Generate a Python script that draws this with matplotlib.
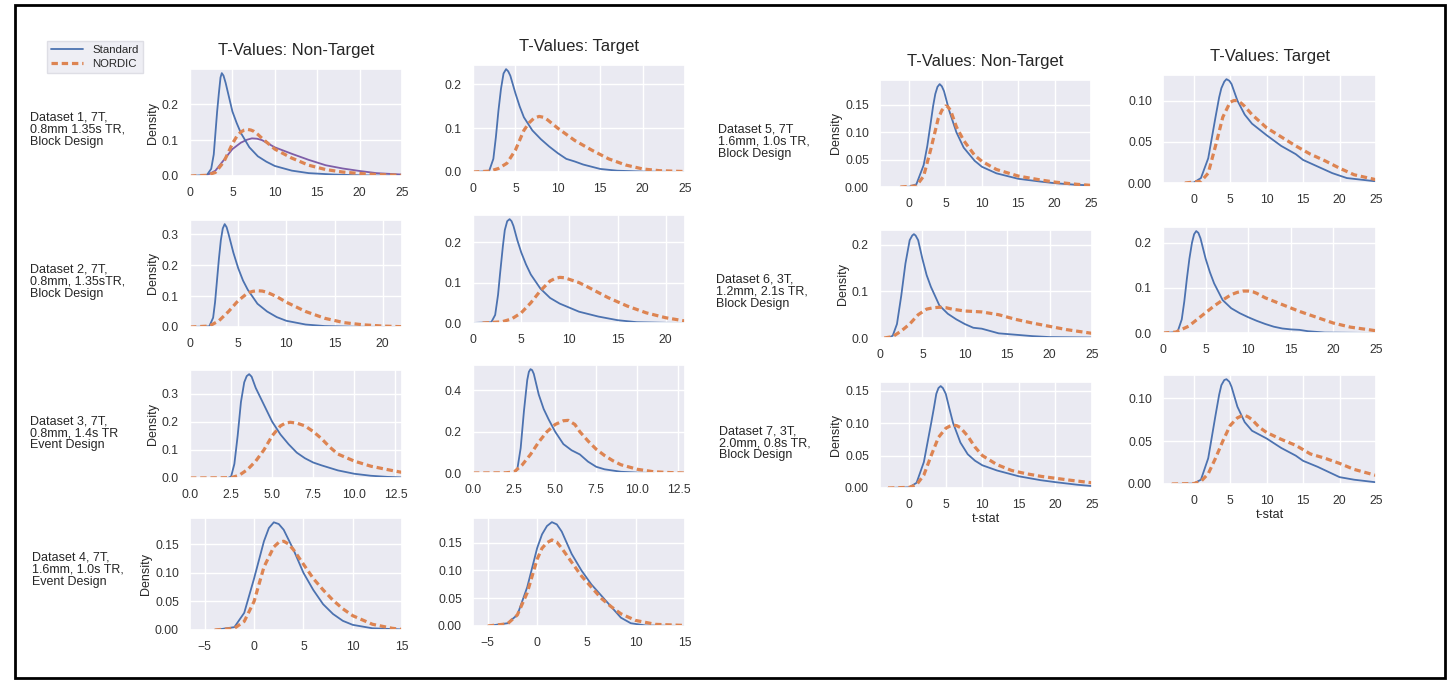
import matplotlib
matplotlib.use("Agg")
import matplotlib.pyplot as plt
import seaborn as sns
from matplotlib.patches import Rectangle
from matplotlib.ticker import MultipleLocator

sns.set_theme(style="darkgrid")
plt.rcParams["font.family"] = ["Liberation Sans", "DejaVu Sans"]

# ---- data (t-value, density) ----
# Dataset 1, non-target
d1n_std_x = [0, 2.0, 2.5, 2.8, 3.0, 3.2, 3.4, 3.6, 3.75, 3.95, 4.2, 4.6, 5, 5.5, 6, 7, 8, 9, 10, 12, 14, 17, 20, 25]
d1n_std_y = [0, 0.003, 0.02, 0.06, 0.12, 0.18, 0.23, 0.275, 0.287, 0.28, 0.26, 0.22, 0.18, 0.148, 0.12, 0.08, 0.055, 0.04, 0.028, 0.015, 0.008, 0.004, 0.002, 0.0005]
d1n_nor_x = [0, 2, 3, 4, 5, 5.5, 6, 6.4, 6.8, 7.2, 7.5, 8, 8.5, 10, 12, 14, 16, 18, 20, 22, 25]
d1n_nor_y = [0, 0.002, 0.01, 0.04, 0.09, 0.11, 0.123, 0.128, 0.13, 0.128, 0.125, 0.116, 0.105, 0.075, 0.05, 0.03, 0.018, 0.011, 0.007, 0.004, 0.002]
d1n_extra_x = [2, 3, 4, 5, 6, 6.7, 7.3, 7.9, 8.5, 10, 12, 14, 16, 18, 20, 22, 25]
d1n_extra_y = [0.002, 0.015, 0.045, 0.075, 0.093, 0.101, 0.105, 0.104, 0.1, 0.08, 0.062, 0.045, 0.03, 0.021, 0.014, 0.008, 0.004]
# Dataset 1, target
d1t_std_x = [0, 1.9, 2.4, 2.7, 3.0, 3.3, 3.6, 3.9, 4.15, 4.4, 5, 5.5, 6, 7, 8, 9, 10, 11, 12, 13, 15, 17, 20, 25]
d1t_std_y = [0, 0.002, 0.03, 0.08, 0.14, 0.19, 0.225, 0.235, 0.23, 0.22, 0.18, 0.15, 0.125, 0.095, 0.075, 0.058, 0.043, 0.03, 0.024, 0.017, 0.007, 0.003, 0.001, 0]
d1t_nor_x = [0, 2, 3, 4, 5, 6, 6.6, 7.2, 7.8, 8.3, 8.8, 10, 12, 14, 16, 18, 20, 22, 25]
d1t_nor_y = [0, 0.002, 0.008, 0.02, 0.05, 0.095, 0.112, 0.123, 0.127, 0.125, 0.119, 0.1, 0.072, 0.05, 0.03, 0.016, 0.007, 0.003, 0.001]
# Dataset 2
d2n_std_x = [0, 2, 2.4, 2.6, 2.8, 3.0, 3.2, 3.4, 3.6, 3.8, 4.0, 4.5, 5, 5.5, 6, 7, 8, 9, 10, 12, 14, 17, 22]
d2n_std_y = [0, 0.002, 0.03, 0.08, 0.15, 0.22, 0.28, 0.318, 0.332, 0.322, 0.3, 0.24, 0.19, 0.15, 0.12, 0.075, 0.05, 0.032, 0.02, 0.008, 0.003, 0.001, 0]
d2n_nor_x = [0, 2, 3, 4, 5, 6, 6.5, 7, 7.5, 8, 9, 10, 12, 14, 16, 18, 20, 22]
d2n_nor_y = [0, 0.003, 0.02, 0.05, 0.085, 0.11, 0.115, 0.117, 0.116, 0.112, 0.098, 0.08, 0.05, 0.028, 0.014, 0.007, 0.003, 0.001]
d2t_std_x = [0, 1.9, 2.3, 2.6, 2.8, 3.1, 3.3, 3.55, 3.8, 4.0, 4.2, 4.6, 5, 5.5, 6, 7, 8, 9, 10, 11, 12, 13, 15, 17, 20, 22]
d2t_std_y = [0, 0.002, 0.02, 0.07, 0.12, 0.19, 0.23, 0.252, 0.257, 0.252, 0.24, 0.205, 0.175, 0.145, 0.12, 0.085, 0.062, 0.048, 0.038, 0.028, 0.022, 0.016, 0.007, 0.002, 0.0005, 0]
d2t_nor_x = [1, 3, 4, 5, 6, 7, 8, 8.5, 9, 9.5, 10, 11, 12, 14, 16, 18, 20, 22]
d2t_nor_y = [0, 0.003, 0.01, 0.025, 0.05, 0.08, 0.104, 0.11, 0.113, 0.112, 0.108, 0.1, 0.088, 0.063, 0.042, 0.025, 0.013, 0.005]
# Dataset 3
d3n_std_x = [2.3, 2.5, 2.7, 2.9, 3.1, 3.3, 3.45, 3.6, 3.75, 4.0, 4.5, 5, 5.5, 6, 6.5, 7, 7.5, 8, 9, 10, 11, 12, 12.9]
d3n_std_y = [0, 0.005, 0.05, 0.15, 0.27, 0.34, 0.362, 0.369, 0.36, 0.32, 0.26, 0.2, 0.155, 0.12, 0.09, 0.07, 0.055, 0.045, 0.027, 0.015, 0.008, 0.004, 0.002]
d3n_nor_x = [0, 2.5, 3, 3.5, 4, 4.5, 5, 5.5, 5.8, 6.1, 6.5, 7, 7.5, 8, 8.5, 9, 10, 11, 12, 12.9]
d3n_nor_y = [0, 0.001, 0.01, 0.03, 0.06, 0.1, 0.15, 0.185, 0.195, 0.198, 0.195, 0.185, 0.165, 0.14, 0.11, 0.085, 0.06, 0.042, 0.03, 0.02]
d3t_std_x = [2.5, 2.7, 2.9, 3.1, 3.3, 3.4, 3.5, 3.6, 3.7, 3.85, 4, 4.3, 4.6, 5, 5.5, 6, 6.5, 7, 7.5, 8, 9, 10, 11]
d3t_std_y = [0, 0.02, 0.12, 0.3, 0.45, 0.49, 0.503, 0.498, 0.48, 0.43, 0.38, 0.31, 0.26, 0.2, 0.14, 0.11, 0.09, 0.055, 0.03, 0.018, 0.006, 0.002, 0]
d3t_nor_x = [0, 2, 2.5, 3, 3.5, 4, 4.5, 5, 5.5, 5.8, 6.2, 6.5, 7, 7.5, 8, 8.5, 9, 10, 11, 12, 12.9]
d3t_nor_y = [0, 0.001, 0.005, 0.04, 0.09, 0.15, 0.2, 0.235, 0.253, 0.255, 0.235, 0.2, 0.155, 0.115, 0.085, 0.06, 0.04, 0.018, 0.006, 0.002, 0]
# Dataset 4
d4n_std_x = [-4, -2, -1, 0, 1, 1.5, 2, 2.5, 3, 4, 5, 6, 7, 8, 9, 10, 12, 15]
d4n_std_y = [0, 0.005, 0.03, 0.09, 0.155, 0.178, 0.188, 0.185, 0.175, 0.14, 0.1, 0.07, 0.045, 0.028, 0.016, 0.009, 0.003, 0.001]
d4n_nor_x = [-4, -2, -1, 0, 1, 2, 2.5, 3, 3.5, 4, 5, 6, 7, 8, 9, 10, 12, 14, 15]
d4n_nor_y = [0, 0.003, 0.015, 0.05, 0.11, 0.145, 0.153, 0.155, 0.15, 0.14, 0.115, 0.09, 0.07, 0.052, 0.037, 0.025, 0.01, 0.003, 0.001]
d4t_std_x = [-5, -3, -2, -1, 0, 0.5, 1, 1.5, 2, 2.5, 3.5, 4.5, 5.5, 6.5, 7.5, 8.5, 9.5, 11, 15]
d4t_std_y = [0, 0.005, 0.02, 0.07, 0.14, 0.165, 0.18, 0.187, 0.183, 0.17, 0.13, 0.1, 0.075, 0.055, 0.035, 0.015, 0.005, 0.001, 0]
d4t_nor_x = [-5, -3, -2, -1, 0, 0.5, 1, 1.5, 2, 2.5, 3.5, 4.5, 5.5, 6.5, 7.5, 8.5, 10, 12, 15]
d4t_nor_y = [0, 0.004, 0.02, 0.06, 0.12, 0.14, 0.15, 0.155, 0.151, 0.14, 0.115, 0.09, 0.07, 0.05, 0.035, 0.022, 0.01, 0.003, 0.001]
# Dataset 5
d5n_std_x = [-1.2, 0, 1, 2, 2.5, 3, 3.3, 3.6, 3.9, 4.2, 4.5, 4.8, 5.5, 6.5, 7.5, 9, 10, 12, 15, 18, 20, 23, 25]
d5n_std_y = [0, 0.0005, 0.005, 0.04, 0.075, 0.12, 0.148, 0.17, 0.183, 0.188, 0.184, 0.175, 0.14, 0.1, 0.072, 0.048, 0.037, 0.025, 0.015, 0.01, 0.007, 0.004, 0.003]
d5n_nor_x = [-1.2, 1, 2, 3, 4, 4.5, 5, 5.3, 5.7, 6.5, 7.5, 9, 10, 12, 15, 18, 20, 23, 25]
d5n_nor_y = [0, 0.002, 0.02, 0.07, 0.125, 0.14, 0.148, 0.147, 0.14, 0.11, 0.085, 0.058, 0.047, 0.032, 0.02, 0.013, 0.009, 0.005, 0.003]
d5t_std_x = [-1.2, 0, 1, 2, 3, 3.5, 3.8, 4.2, 4.5, 4.9, 5.2, 6, 7, 8, 10, 12, 14, 15, 17, 19, 21, 25]
d5t_std_y = [0, 0.0005, 0.006, 0.03, 0.08, 0.104, 0.115, 0.123, 0.126, 0.124, 0.12, 0.1, 0.083, 0.072, 0.058, 0.045, 0.035, 0.028, 0.02, 0.012, 0.006, 0.002]
d5t_nor_x = [-1.2, 1, 2, 3, 4, 5, 5.5, 6, 6.5, 7, 8, 10, 12, 14, 16, 18, 20, 22, 25]
d5t_nor_y = [0, 0.002, 0.012, 0.045, 0.08, 0.098, 0.1, 0.1, 0.097, 0.093, 0.083, 0.067, 0.056, 0.045, 0.035, 0.027, 0.018, 0.01, 0.004]
# Dataset 6
d6n_std_x = [1, 1.5, 2, 2.5, 3, 3.5, 3.8, 4, 4.2, 4.5, 5, 5.5, 6, 7, 8, 9, 10, 11, 12, 13, 14, 16, 18, 20, 25]
d6n_std_y = [0, 0.005, 0.03, 0.09, 0.16, 0.21, 0.22, 0.223, 0.22, 0.21, 0.17, 0.135, 0.11, 0.07, 0.052, 0.04, 0.03, 0.022, 0.02, 0.015, 0.01, 0.007, 0.004, 0.002, 0.001]
d6n_nor_x = [0.5, 1.5, 2.5, 3.5, 4.5, 5.5, 6.3, 7, 7.8, 8.5, 10, 12, 14, 16, 18, 20, 22, 25]
d6n_nor_y = [0, 0.003, 0.015, 0.03, 0.05, 0.062, 0.065, 0.066, 0.065, 0.062, 0.058, 0.056, 0.05, 0.04, 0.032, 0.025, 0.018, 0.01]
d6t_std_x = [0, 1.7, 2.2, 2.5, 2.8, 3.1, 3.4, 3.65, 3.9, 4.15, 4.4, 5, 5.5, 6, 7, 8, 9, 10, 11, 12, 13, 14, 15, 16, 17, 19, 25]
d6t_std_y = [0, 0.002, 0.03, 0.07, 0.12, 0.165, 0.2, 0.219, 0.226, 0.222, 0.21, 0.165, 0.135, 0.11, 0.073, 0.055, 0.044, 0.035, 0.027, 0.02, 0.014, 0.01, 0.008, 0.007, 0.004, 0.001, 0]
d6t_nor_x = [0, 1.5, 3, 4, 5, 6, 7, 8, 8.7, 9.4, 10, 10.6, 11, 12, 14, 16, 18, 20, 22, 25]
d6t_nor_y = [0, 0.002, 0.015, 0.03, 0.045, 0.06, 0.073, 0.085, 0.09, 0.093, 0.093, 0.091, 0.088, 0.078, 0.063, 0.048, 0.035, 0.022, 0.013, 0.005]
# Dataset 7
d7n_std_x = [-2.9, 0, 1, 2, 3, 3.4, 3.7, 4.0, 4.3, 4.6, 5, 5.5, 6, 7, 8, 9, 10, 12, 15, 18, 20, 23, 25]
d7n_std_y = [0, 0.001, 0.008, 0.04, 0.1, 0.125, 0.145, 0.154, 0.157, 0.154, 0.145, 0.122, 0.1, 0.07, 0.052, 0.042, 0.035, 0.027, 0.018, 0.012, 0.009, 0.005, 0.003]
d7n_nor_x = [-2.9, 0, 1, 2, 3, 4, 5, 5.5, 6, 6.5, 7, 8, 9, 10, 12, 14, 16, 18, 20, 22, 25]
d7n_nor_y = [0, 0.001, 0.005, 0.02, 0.05, 0.078, 0.092, 0.095, 0.097, 0.096, 0.093, 0.08, 0.063, 0.05, 0.036, 0.027, 0.022, 0.018, 0.015, 0.012, 0.008]
d7t_std_x = [-3, 0, 1, 2, 3, 3.5, 3.8, 4.2, 4.5, 4.9, 5.2, 6, 7, 8, 10, 12, 14, 15, 17, 19, 20, 22, 25]
d7t_std_y = [0, 0.0005, 0.005, 0.03, 0.08, 0.104, 0.115, 0.121, 0.122, 0.119, 0.113, 0.09, 0.072, 0.062, 0.053, 0.042, 0.033, 0.027, 0.02, 0.012, 0.008, 0.005, 0.002]
d7t_nor_x = [-3, 0, 1, 2, 3, 4, 5, 6, 6.5, 7, 7.5, 8, 9, 10, 12, 14, 16, 18, 20, 22, 25]
d7t_nor_y = [0, 0.0005, 0.003, 0.012, 0.03, 0.05, 0.068, 0.077, 0.079, 0.08, 0.078, 0.075, 0.066, 0.06, 0.052, 0.045, 0.035, 0.03, 0.024, 0.017, 0.01]

dataset_labels = [
    "Dataset 1, 7T,\n0.8mm 1.35s TR,\nBlock Design",
    "Dataset 2, 7T,\n0.8mm, 1.35sTR,\nBlock Design",
    "Dataset 3, 7T,\n0.8mm, 1.4s TR\nEvent Design",
    "Dataset 4, 7T,\n1.6mm, 1.0s TR,\nEvent Design",
    "Dataset 5, 7T\n1.6mm, 1.0s TR,\nBlock Design",
    "Dataset 6, 3T,\n1.2mm, 2.1s TR,\nBlock Design",
    "Dataset 7, 3T,\n2.0mm, 0.8s TR,\nBlock Design",
]
col_titles = ["T-Values: Non-Target", "T-Values: Target"]

W, H = 1450, 681
BLUE = "#4C72B0"
ORANGE = "#DD8452"

fig = plt.figure(figsize=(W / 100, H / 100), dpi=100)


def add_ax(l, t, r, b):
    return fig.add_axes([l / W, 1 - b / H, (r - l) / W, (b - t) / H])


# (pixel box, std, nordic, xlim, xstep, ystep, ylabel, xlabel, title)
panels = [
    ((190, 69, 402, 176), (d1n_std_x, d1n_std_y), (d1n_nor_x, d1n_nor_y), (0, 25), 5, 0.1, True, False, col_titles[0]),
    ((473, 65, 685, 172), (d1t_std_x, d1t_std_y), (d1t_nor_x, d1t_nor_y), (0, 25), 5, 0.1, False, False, col_titles[1]),
    ((190, 220, 402, 327), (d2n_std_x, d2n_std_y), (d2n_nor_x, d2n_nor_y), (0, 22), 5, 0.1, True, False, None),
    ((473, 215, 685, 323), (d2t_std_x, d2t_std_y), (d2t_nor_x, d2t_nor_y), (0, 22), 5, 0.1, False, False, None),
    ((190, 370, 402, 478), (d3n_std_x, d3n_std_y), (d3n_nor_x, d3n_nor_y), (0, 12.9), 2.5, 0.1, True, False, None),
    ((473, 365, 685, 473), (d3t_std_x, d3t_std_y), (d3t_nor_x, d3t_nor_y), (0, 12.9), 2.5, 0.2, False, False, None),
    ((190, 518, 402, 630), (d4n_std_x, d4n_std_y), (d4n_nor_x, d4n_nor_y), (-6.5, 15), 5, 0.05, True, False, None),
    ((473, 518, 685, 626), (d4t_std_x, d4t_std_y), (d4t_nor_x, d4t_nor_y), (-6.5, 15), 5, 0.05, False, False, None),
    ((880, 80, 1091, 187), (d5n_std_x, d5n_std_y), (d5n_nor_x, d5n_nor_y), (-4, 25), 5, 0.05, True, False, col_titles[0]),
    ((1163, 75, 1376, 183), (d5t_std_x, d5t_std_y), (d5t_nor_x, d5t_nor_y), (-4.2, 25), 5, 0.05, False, False, col_titles[1]),
    ((880, 230, 1092, 338), (d6n_std_x, d6n_std_y), (d6n_nor_x, d6n_nor_y), (0, 25), 5, 0.1, True, False, None),
    ((1163, 227, 1376, 333), (d6t_std_x, d6t_std_y), (d6t_nor_x, d6t_nor_y), (0, 25), 5, 0.1, False, False, None),
    ((880, 382, 1092, 488), (d7n_std_x, d7n_std_y), (d7n_nor_x, d7n_nor_y), (-4, 25), 5, 0.05, True, True, None),
    ((1163, 375, 1376, 484), (d7t_std_x, d7t_std_y), (d7t_nor_x, d7t_nor_y), (-4.2, 25), 5, 0.05, False, True, None),
]

axes = []
for box, std, nor, xlim, xstep, ystep, ylab, xlab, title in panels:
    ax = add_ax(*box)
    ax.plot(std[0], std[1], color=BLUE, lw=1.3, label="Standard")
    ax.plot(nor[0], nor[1], color=ORANGE, lw=2.3, ls="--", dashes=(2, 1.2), label="NORDIC")
    ax.set_xlim(*xlim)
    ymax = max(max(std[1]), max(nor[1]))
    ax.set_ylim(0, ymax * 1.04)
    ax.xaxis.set_major_locator(MultipleLocator(xstep))
    ax.yaxis.set_major_locator(MultipleLocator(ystep))
    ax.tick_params(labelsize=8.7, pad=2, colors="#333333")
    if ylab:
        ax.set_ylabel("Density", fontsize=9, labelpad=2, color="#262626")
    if xlab:
        ax.set_xlabel("t-stat", fontsize=9, labelpad=1, color="#262626")
    if title:
        ax.set_title(title, fontsize=12, pad=10, color="#262626")
    axes.append(ax)

# dataset 1 non-target has an extra broad solid trace
axes[0].plot(d1n_extra_x, d1n_extra_y, color="#7E5EA8", lw=1.3, zorder=1.9)

label_pos = [(30, 130), (30, 282), (30, 433), (32, 570), (718, 142), (716, 292), (719, 443)]
for (px, py), txt in zip(label_pos, dataset_labels):
    fig.text(px / W, 1 - py / H, txt, fontsize=9, ha="left", va="center",
             linespacing=1.0, color="#262626")

handles, labels = axes[0].get_legend_handles_labels()
fig.legend(handles, labels, loc="upper left", bbox_to_anchor=(41 / W, 1 - 35 / H),
           fontsize=8.2, frameon=True, facecolor="#EAEAF2", edgecolor="#D8D8E0",
           borderpad=0.4, handlelength=2.8, labelspacing=0.3, fancybox=False)

fig.patches.append(Rectangle((15 / W, 1 - 678 / H), (1445 - 15) / W, (678 - 5) / H,
                             transform=fig.transFigure, fill=False, edgecolor="black", lw=2))

fig.savefig("out.png", dpi=100)
